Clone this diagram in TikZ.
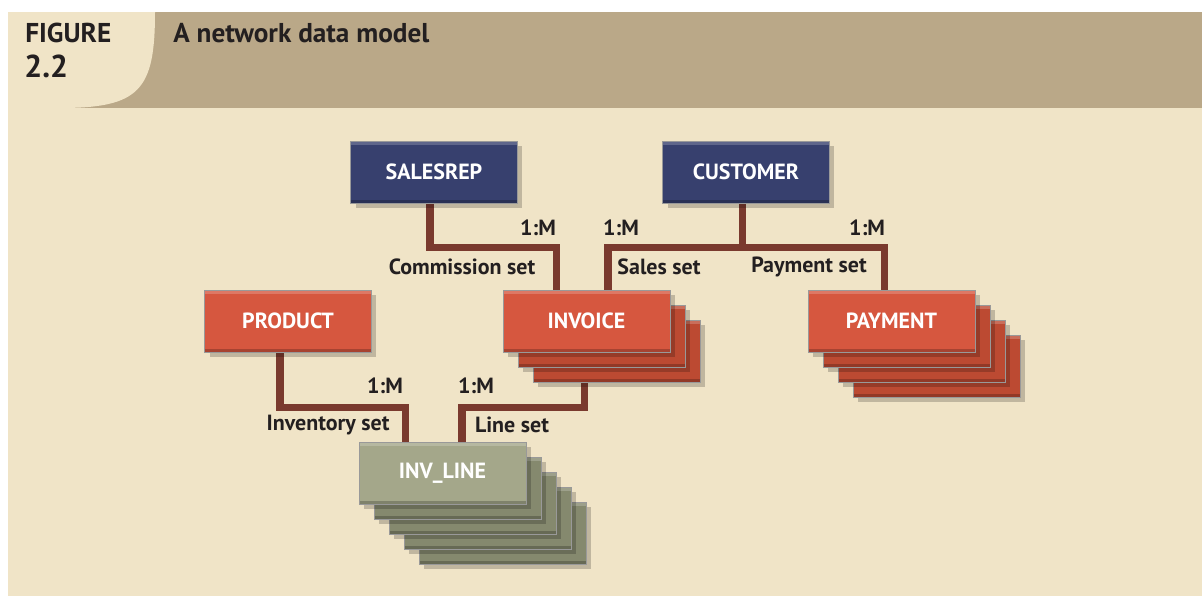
\documentclass[tikz,border=0pt]{standalone}
\usepackage{fontspec}
\setmainfont{PT Sans}
\usetikzlibrary{calc,shadows}

\definecolor{pagebeige}{HTML}{F0E4C7}
\definecolor{headtan}{HTML}{BAA888}
\definecolor{linkbrown}{HTML}{7A3A2E}
\definecolor{navyfill}{HTML}{37406E}
\definecolor{redfill}{HTML}{D6573F}
\definecolor{redback}{HTML}{BC4A32}
\definecolor{greenfill}{HTML}{A4A78A}
\definecolor{greenback}{HTML}{85896E}
\definecolor{inktext}{HTML}{231F20}

\pgfdeclarelayer{backdrop}
\pgfdeclarelayer{links}
\pgfsetlayers{backdrop,links,main}

% stack of record boxes: name, style, copies, position, text
\newcommand\recstack[5]{%
  \foreach \k in {#3,...,1}
    \node[#2, fill=#2back] (#1-\k) at ($(#4)+(15*\k,15*\k)$) {};
  \node[#2] (#1) at (#4) {#5};
}

\tikzset{
  entity/.style={draw=black!40, line width=0.4pt, minimum width=3.34cm, minimum height=1.24cm,
    inner sep=0pt, text=white, font=\fontsize{12.5}{14}\selectfont\bfseries,
    drop shadow={shadow xshift=0.1cm, shadow yshift=-0.1cm, fill=black, opacity=0.2},
    path picture={
      \fill[black, opacity=0.22] (path picture bounding box.south west) rectangle ([yshift=0.07cm]path picture bounding box.south east);
      \fill[white, opacity=0.2] (path picture bounding box.north west) rectangle ([yshift=-0.07cm]path picture bounding box.north east);
    }},
  navy/.style={entity, fill=navyfill},
  red/.style={entity, fill=redfill},
  green/.style={entity, fill=greenfill},
  link/.style={draw=linkbrown, line width=4pt, line join=miter},
  setlabel/.style={text=inktext, font=\fontsize{12.5}{14}\selectfont\bfseries, inner sep=0pt},
}

\begin{document}
\begin{tikzpicture}[x=0.02cm, y=-0.02cm]
  \useasboundingbox (0,0) rectangle (1202,596);

  \begin{pgfonlayer}{backdrop}
    \fill[white] (0,0) rectangle (1202,596);
    \fill[pagebeige] (8,108) rectangle (1202,596);
    \fill[headtan] (8,12) rectangle (1202,108);
    \fill[pagebeige] (8,12) -- (155,12) .. controls (155,90) and (140,108) .. (60,108) -- (8,108) -- cycle;
  \end{pgfonlayer}

  % header
  \node[anchor=west, inner sep=0pt, text=inktext, font=\fontsize{15.5}{17}\selectfont\bfseries] (figword) at (25,33) {FIGURE};
  \node[anchor=west, inner sep=0pt, text=inktext, font=\fontsize{18}{20}\selectfont\bfseries] (fignum) at (24,66) {2.2};
  \node[anchor=west, inner sep=0pt, text=inktext, font=\fontsize{15.5}{17}\selectfont\bfseries] (figtitle) at (173,33) {A network data model};

  % records
  \node[navy] (salesrep) at (434,172) {SALESREP};
  \node[navy] (customer) at (746,172) {CUSTOMER};
  \node[red] (product) at (288,321) {PRODUCT};
  \recstack{invoice}{red}{2}{586.5,321}{INVOICE}
  \recstack{payment}{red}{3}{891.5,321}{PAYMENT}
  \recstack{invline}{green}{4}{442.5,473}{INV\_LINE}

  % sets
  \begin{pgfonlayer}{links}
    \draw[link] ([xshift=-0.08cm]salesrep.south) -- ++(0,44) -| ([xshift=-0.61cm]invoice.north);
    \draw[link] ([xshift=-0.08cm]customer.south) -- ++(0,44) coordinate (fork);
    \draw[link] ([xshift=0.43cm]invoice.north) |- (fork) -| ([xshift=-0.15cm]payment.north);
    \draw[link] ([xshift=-0.16cm]product.south) -- ++(0,55) -| ([xshift=-0.75cm]invline.north);
    \draw[link] ([xshift=-0.65cm]invoice-2.south) -- ++(0,25) -| ([xshift=0.39cm]invline.north);
  \end{pgfonlayer}

  \node[setlabel] (card-commission) at (538,228) {1:M};
  \node[setlabel] (lbl-commission) at (462,267) {Commission set};
  \node[setlabel] (card-sales) at (621,228) {1:M};
  \node[setlabel] (lbl-sales) at (659,267) {Sales set};
  \node[setlabel] (card-payment) at (867,228) {1:M};
  \node[setlabel] (lbl-payment) at (809,267) {Payment set};
  \node[setlabel] (card-inventory) at (385,386) {1:M};
  \node[setlabel] (lbl-inventory) at (328,425) {Inventory set};
  \node[setlabel] (card-line) at (476,386) {1:M};
  \node[setlabel] (lbl-line) at (512,425) {Line set};
\end{tikzpicture}
\end{document}
